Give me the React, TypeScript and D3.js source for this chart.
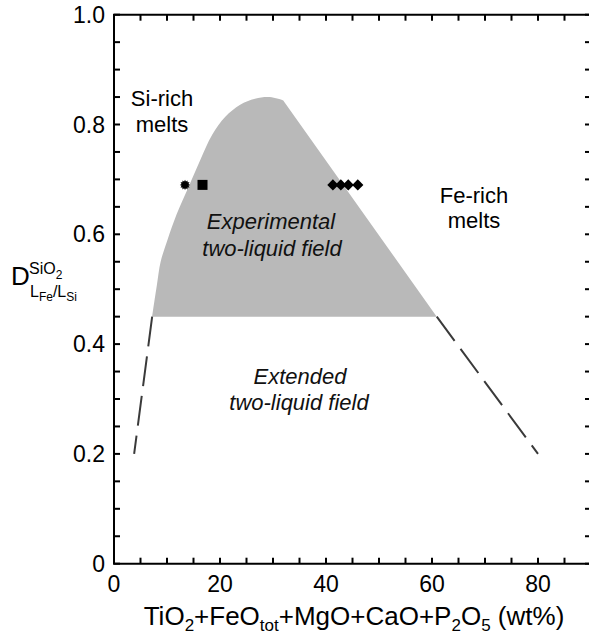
import React, { useEffect } from "react";
import * as d3 from "d3";

// ---- data ----
const xTickLabels = [0, 20, 40, 60, 80];
const yTickLabels = [0, 0.2, 0.4, 0.6, 0.8, 1.0];

// experimental two-liquid field outline [x (wt%), D]
const fieldX = [7.2, 8.1, 8.8, 10.1, 11.8, 14.0, 16.3, 18.5, 21.0, 23.8, 26.6, 29.4, 31.9, 60.9];
const fieldY = [0.45, 0.508, 0.55, 0.59, 0.636, 0.685, 0.736, 0.781, 0.814, 0.836, 0.847, 0.850, 0.844, 0.45];

// extended field dashed boundaries
const leftDashX = [7.2, 3.8];
const leftDashY = [0.45, 0.2];
const rightDashX = [60.9, 80];
const rightDashY = [0.45, 0.2];

// experimental points
const starX = [13.4];
const starY = [0.69];
const squareX = [16.7];
const squareY = [0.69];
const diamondX = [41.3, 42.8, 44.2, 46.0];
const diamondY = [0.69, 0.69, 0.69, 0.69];

const W = 589;
const H = 635;
const L = 114;
const R = 591;
const T = 14.7;
const B = 563.7;
const FONT = "'Liberation Sans', Arial, Helvetica, sans-serif";

export default function App() {
  useEffect(() => {
    document.body.style.margin = "0";
    document.body.style.overflow = "hidden";
    document.documentElement.style.overflow = "hidden";
  }, []);

  const x = d3.scaleLinear().domain([0, 90]).range([L, R]);
  const y = d3.scaleLinear().domain([0, 1]).range([B, T]);

  const xMinor = d3.range(0, 90.001, 5);
  const yMinor = d3.range(0, 1.0001, 0.05);

  const n = fieldX.length;
  const curve = d3
    .line<number>()
    .x((i) => x(fieldX[i]))
    .y((i) => y(fieldY[i]))
    .curve(d3.curveCatmullRom.alpha(0.5));
  const curvePart = curve(d3.range(0, n - 1)) || "";
  const fieldPath = curvePart + `L${x(fieldX[n - 1])},${y(fieldY[n - 1])}Z`;

  const lineL = d3.line<number>().x((i) => x(leftDashX[i])).y((i) => y(leftDashY[i]))([0, 1]);
  const lineR = d3.line<number>().x((i) => x(rightDashX[i])).y((i) => y(rightDashY[i]))([0, 1]);

  // star (sunburst) marker path
  const starPts: [number, number][] = [];
  const nP = 12;
  for (let k = 0; k < nP * 2; k++) {
    const r = k % 2 === 0 ? 5.2 : 3.6;
    const a = (Math.PI * k) / nP;
    starPts.push([r * Math.cos(a), r * Math.sin(a)]);
  }
  const starPath = d3.line()(starPts) + "Z";
  const dS = 5.6;
  const diamondPath = `M0,${-dS}L${dS},0L0,${dS}L${-dS},0Z`;

  const tickLen = 6;
  const axisStroke = 2;

  return (
    <svg width={W} height={H} style={{ position: "absolute", left: 0, top: 0, display: "block" }} fontFamily={FONT}>
      <rect width={W} height={H} fill="#fff" />
      {/* shaded field */}
      <path d={fieldPath} fill="#b9b9b9" stroke="none" />
      {/* dashed extensions */}
      <path d={lineL || ""} stroke="#3a3a3a" strokeWidth={2} strokeDasharray="30 10" fill="none" />
      <path d={lineR || ""} stroke="#3a3a3a" strokeWidth={2} strokeDasharray="30 10" fill="none" />

      {/* markers */}
      {starX.map((v, i) => (
        <path key={"s" + i} d={starPath} transform={`translate(${x(v)},${y(starY[i])})`} fill="#000" />
      ))}
      {squareX.map((v, i) => (
        <rect key={"q" + i} x={x(v) - 5} y={y(squareY[i]) - 5} width={10} height={10} fill="#000" />
      ))}
      {diamondX.map((v, i) => (
        <path key={"d" + i} d={diamondPath} transform={`translate(${x(v)},${y(diamondY[i])})`} fill="#000" />
      ))}

      {/* frame */}
      <line x1={L} x2={L} y1={T} y2={B} stroke="#000" strokeWidth={axisStroke} />
      <line x1={L - 1} x2={R} y1={B} y2={B} stroke="#000" strokeWidth={axisStroke} />
      <line x1={L - 1} x2={R} y1={T} y2={T} stroke="#000" strokeWidth={axisStroke} />

      {/* ticks */}
      {xMinor.map((v) => (
        <g key={"xt" + v}>
          <line x1={x(v)} x2={x(v)} y1={B} y2={B - tickLen} stroke="#000" strokeWidth={axisStroke} />
          <line x1={x(v)} x2={x(v)} y1={T} y2={T + tickLen} stroke="#000" strokeWidth={axisStroke} />
        </g>
      ))}
      {yMinor.map((v) => (
        <g key={"yt" + v.toFixed(2)}>
          <line x1={L} x2={L + tickLen} y1={y(v)} y2={y(v)} stroke="#000" strokeWidth={axisStroke} />
          <line x1={R} x2={R - tickLen} y1={y(v)} y2={y(v)} stroke="#000" strokeWidth={axisStroke} />
        </g>
      ))}

      {/* tick labels */}
      {xTickLabels.map((v) => (
        <text key={"xl" + v} x={x(v)} y={592} textAnchor="middle" fontSize={23} fill="#000">
          {v}
        </text>
      ))}
      {yTickLabels.map((v) => (
        <text key={"yl" + v} x={105} y={y(v) + 8} textAnchor="end" fontSize={23} fill="#000">
          {v === 0 ? "0" : v.toFixed(1)}
        </text>
      ))}

      {/* x axis title */}
      <text x={354} y={625} textAnchor="middle" fontSize={26} fill="#000">
        <tspan>TiO</tspan>
        <tspan fontSize={17} dy={6}>2</tspan>
        <tspan dy={-6}>+FeO</tspan>
        <tspan fontSize={17} dy={6}>tot</tspan>
        <tspan dy={-6}>+MgO+CaO+P</tspan>
        <tspan fontSize={17} dy={6}>2</tspan>
        <tspan dy={-6}>O</tspan>
        <tspan fontSize={17} dy={6}>5</tspan>
        <tspan dy={-6}> (wt%)</tspan>
      </text>

      {/* y axis title */}
      <text x={11} y={285} fontSize={26} fill="#000">D</text>
      <text x={29} y={274} fontSize={16} fill="#000">
        <tspan>SiO</tspan>
        <tspan fontSize={12} dy={5}>2</tspan>
      </text>
      <text x={30} y={297} fontSize={16} fill="#000">
        <tspan>L</tspan>
        <tspan fontSize={12} dy={4}>Fe</tspan>
        <tspan dy={-4}>/L</tspan>
        <tspan fontSize={12} dy={4}>Si</tspan>
      </text>

      {/* annotations */}
      <text x={162} y={106} textAnchor="middle" fontSize={22} fill="#000">Si-rich</text>
      <text x={162} y={132} textAnchor="middle" fontSize={22} fill="#000">melts</text>
      <text x={474} y={203} textAnchor="middle" fontSize={22} fill="#000">Fe-rich</text>
      <text x={474} y={228} textAnchor="middle" fontSize={22} fill="#000">melts</text>
      <text x={271} y={229} textAnchor="middle" fontSize={22} fontStyle="italic" fill="#111">Experimental</text>
      <text x={272} y={256} textAnchor="middle" fontSize={22} fontStyle="italic" fill="#111">two-liquid field</text>
      <text x={300} y={384} textAnchor="middle" fontSize={22} fontStyle="italic" fill="#111">Extended</text>
      <text x={299} y={410} textAnchor="middle" fontSize={22} fontStyle="italic" fill="#111">two-liquid field</text>
    </svg>
  );
}
